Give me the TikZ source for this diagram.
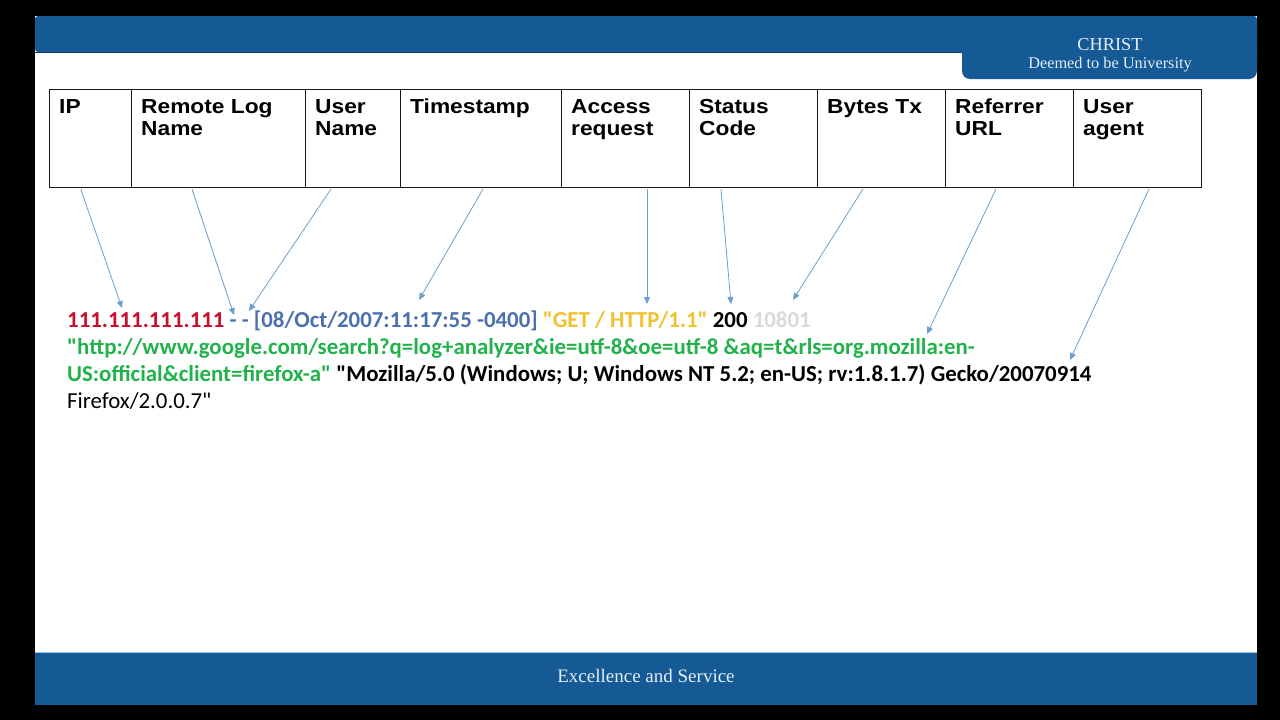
\documentclass[tikz,border=0pt]{standalone}
\usepackage{fontspec}
\usetikzlibrary{arrows.meta}
\newfontfamily\logfont{Carlito}
\newfontfamily\headfont{Liberation Sans}
\newfontfamily\barfont{Liberation Serif}
\definecolor{barblue}{HTML}{155A94}
\definecolor{barline}{HTML}{0F3F6E}
\definecolor{baredge}{HTML}{9DC3E6}
\definecolor{bartext}{HTML}{E3EEF8}
\definecolor{arrowblue}{HTML}{6A9FD0}
\definecolor{ipred}{HTML}{C8102E}
\definecolor{tsblue}{HTML}{4A70AE}
\definecolor{reqyellow}{HTML}{F2C12E}
\definecolor{urlgreen}{HTML}{22B24C}
\definecolor{bytesgrey}{HTML}{DADADA}
\newcommand{\hdrtext}[1]{\scalebox{1.12}[1]{\begin{tabular}[t]{@{}l@{}}#1\end{tabular}}}
\begin{document}
\begin{tikzpicture}[x=1pt,y=-1pt,
  cellbox/.style={draw=black!90,line width=1.2pt,minimum height=98pt,anchor=north west,inner sep=0pt},
  headtext/.style={anchor=base west,inner sep=0pt,font=\headfont\bfseries\fontsize{20.3}{22.5}\selectfont},
  logline/.style={anchor=base west,inner sep=0pt,font=\logfont\fontsize{22.85}{27.3}\selectfont},
  pointer/.style={draw=arrowblue,line width=0.8pt,-{Triangle[length=7pt,width=6pt]}},
  bartitle/.style={inner sep=0pt,anchor=base,text=bartext,font=\barfont}]
\useasboundingbox (0,0) rectangle (1280,720);
% slide frame
\fill[black] (0,0) rectangle (1280,720);
\fill[white] (35,16) rectangle (1257,705);
% top banner with the tab on the right
\fill[barblue,rounded corners=3pt] (35,52) -- (35,16) -- (1257,16) -- (1257,40) -- (1257,52) -- cycle;
\fill[barblue,rounded corners=8pt] (962,40) -- (962,79) -- (1257,79) -- (1257,40) -- cycle;
\draw[barline,line width=0.8pt] (35,52.5) -- (962,52.5);
\node[bartitle,font=\barfont\fontsize{18.3}{20}\selectfont] (uniname) at (1110,50.5) {CHRIST};
\node[bartitle,font=\barfont\fontsize{16.3}{18}\selectfont] (unisub) at (1110,68.5) {Deemed to be University};
% bottom banner
\fill[barblue] (35,652) rectangle (1257,705);
\draw[baredge,line width=0.8pt] (35,652.4) -- (1257,652.4);
\node[bartitle,font=\barfont\fontsize{19}{20}\selectfont] (motto) at (646,682) {Excellence and Service};
% table of log fields
\node[cellbox,minimum width=82pt] (ip) at (49,89) {};
\node[cellbox,minimum width=174pt] (rlog) at (131,89) {};
\node[cellbox,minimum width=95pt] (uname) at (305,89) {};
\node[cellbox,minimum width=161pt] (tstamp) at (400,89) {};
\node[cellbox,minimum width=128pt] (areq) at (561,89) {};
\node[cellbox,minimum width=128pt] (scode) at (689,89) {};
\node[cellbox,minimum width=128pt] (bytes) at (817,89) {};
\node[cellbox,minimum width=128pt] (refurl) at (945,89) {};
\node[cellbox,minimum width=128pt] (uagent) at (1073,89) {};
\node[headtext] (ipT) at (59,113) {\hdrtext{IP}};
\node[headtext] (rlogT) at (141,113) {\hdrtext{Remote Log\\Name}};
\node[headtext] (unameT) at (315,113) {\hdrtext{User\\Name}};
\node[headtext] (tstampT) at (410,113) {\hdrtext{Timestamp}};
\node[headtext] (areqT) at (571,113) {\hdrtext{Access\\request}};
\node[headtext] (scodeT) at (699,113) {\hdrtext{Status\\Code}};
\node[headtext] (bytesT) at (827,113) {\hdrtext{Bytes Tx}};
\node[headtext] (refurlT) at (955,113) {\hdrtext{Referrer\\URL}};
\node[headtext] (uagentT) at (1083,113) {\hdrtext{User\\agent}};
% the log entry
\node[logline] (line1) at (67,327) {\textbf{\textcolor{ipred}{111.111.111.111} \textcolor{tsblue}{- - [08/Oct/2007:11:17:55 -0400]} \textcolor{reqyellow}{"GET / HTTP/1.1"} 200 \textcolor{bytesgrey}{10801}}};
\node[logline] (line2) at (67,354.3) {\textbf{\textcolor{urlgreen}{"http://www.google.com/search?q=log+analyzer\&ie=utf-8\&oe=utf-8 \&aq=t\&rls=org.mozilla:en-}}};
\node[logline] (line3) at (67,381.6) {\textbf{\textcolor{urlgreen}{US:official\&client=firefox-a"} "Mozilla/5.0 (Windows; U; Windows NT 5.2; en-US; rv:1.8.1.7) Gecko/20070914}};
\node[logline] (line4) at (67,408.9) {Firefox/2.0.0.7"};
% pointer ends
\coordinate (ipFrom) at (80.7,189);      \coordinate (ipTo) at (122,308);
\coordinate (rlogFrom) at (192,189);     \coordinate (rlogTo) at (234,315);
\coordinate (unameFrom) at (331,189);    \coordinate (unameTo) at (249,311);
\coordinate (tstampFrom) at (483,189);   \coordinate (tstampTo) at (419,300);
\coordinate (areqFrom) at (647,189);     \coordinate (areqTo) at (647,304);
\coordinate (scodeFrom) at (721,189);    \coordinate (scodeTo) at (731,304);
\coordinate (bytesFrom) at (863,189);    \coordinate (bytesTo) at (793,300);
\coordinate (refurlFrom) at (996,189);   \coordinate (refurlTo) at (927,334);
\coordinate (uagentFrom) at (1149,189);  \coordinate (uagentTo) at (1070,360);
\draw[pointer] (ipFrom) -- (ipTo);
\draw[pointer] (rlogFrom) -- (rlogTo);
\draw[pointer] (unameFrom) -- (unameTo);
\draw[pointer] (tstampFrom) -- (tstampTo);
\draw[pointer] (areqFrom) -- (areqTo);
\draw[pointer] (scodeFrom) -- (scodeTo);
\draw[pointer] (bytesFrom) -- (bytesTo);
\draw[pointer] (refurlFrom) -- (refurlTo);
\draw[pointer] (uagentFrom) -- (uagentTo);
\end{tikzpicture}
\end{document}
